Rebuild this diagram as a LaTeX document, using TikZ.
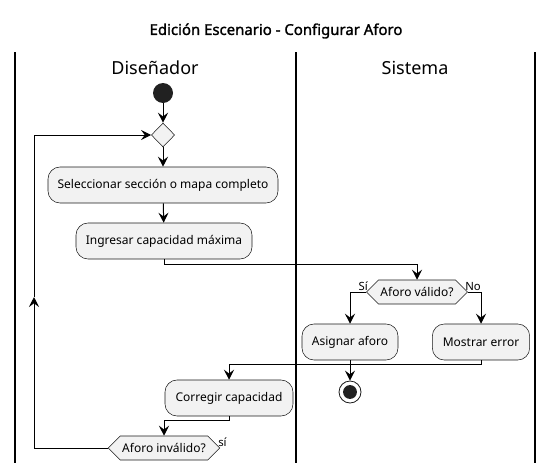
\documentclass[tikz,border=0pt]{standalone}
\usepackage{fontspec}
\setmainfont{Noto Sans}[AutoFakeBold=1.5]
\usetikzlibrary{arrows.meta,shapes.geometric,shapes.symbols}

\begin{document}
\begin{tikzpicture}[x=0.75pt,y=-0.75pt]
\tikzset{boite/.style={draw=black!90, fill=black!5, rounded corners=9pt, minimum height=27pt, inner sep=0pt, font=\fontsize{9}{11}\selectfont},
choix/.style={draw=black!90, fill=black!5, shape=signal, signal to=east and west, minimum height=18pt, inner sep=1.5pt, font=\fontsize{9}{11}\selectfont},
lien/.style={line width=0.75pt, -{Stealth[length=7.5pt,width=7.5pt,inset=2.8pt]}},
couloir/.style={line width=1.1pt},
etiq/.style={font=\fontsize{8.5}{10}\selectfont, inner sep=0pt}}
\useasboundingbox (0,0) rectangle (552,471);
\node[font=\fontsize{11.2}{13}\selectfont\bfseries] (titre) at (276,31) {Edición Escenario - Configurar Aforo};
\draw[couloir] (15,52) -- (15,463);
\draw[couloir] (296,52) -- (296,463);
\draw[couloir] (535,52) -- (535,463);
\node[font=\fontsize{13.5}{16}\selectfont] (L1) at (155,68) {Diseñador};
\node[font=\fontsize{13.5}{16}\selectfont] (L2) at (415,68) {Sistema};
\node[circle, fill=black!87, minimum size=15pt, inner sep=0pt] (debut) at (163,93) {};
\node[diamond, draw=black!90, fill=black!5, minimum width=17.5pt, minimum height=18pt, inner sep=0pt] (fusion) at (163,135) {};
\node[boite, minimum width=172.5pt] (sel) at (163,185) {Seleccionar sección o mapa completo};
\node[boite, minimum width=132pt] (ing) at (164,241) {Ingresar capacidad máxima};
\node[choix, minimum width=70pt] (valido) at (417,292) {Aforo válido?};
\node[boite, minimum width=72pt] (asig) at (350,342) {Asignar aforo};
\node[boite, minimum width=73pt] (err) at (481,342) {Mostrar error};
\node[circle, draw=black!90, fill=white, minimum size=16.5pt, inner sep=0pt, line width=0.6pt] (fin) at (350,392) {};
\fill[black!87] (fin.center) circle (5.2pt);
\node[boite, minimum width=96pt] (corr) at (229,398) {Corregir capacidad};
\node[choix, minimum width=79pt] (inval) at (164,448) {Aforo inválido?};
\node[etiq, anchor=south east] (si1) at (368,291) {Sí};
\node[etiq, anchor=south west] (no1) at (465,291) {No};
\node[etiq, anchor=south west] (si2) at (218,447) {sí};
\coordinate (coin) at (34,448);
\coordinate (mi) at (34,297);
\coordinate (haut) at (34,135);
\draw[lien] (debut) -- (fusion);
\draw[lien] (fusion) -- (sel);
\draw[lien] (sel) -- (ing);
\draw[lien] (ing.south) -- ++(0,5) -| (valido.north);
\draw[lien] (valido.west) -| (asig.north);
\draw[lien] (valido.east) -| (err.north);
\draw[lien] (asig) -- (fin);
\draw[lien] (err.south) -- ++(0,4) -| (corr.north);
\draw[lien] (corr.south) -- ++(0,4) -| (inval.north);
\draw[lien] (inval.west) -- (coin) -- (mi);
\draw[lien] (mi) -- (haut) -- (fusion.west);
\end{tikzpicture}
\end{document}
